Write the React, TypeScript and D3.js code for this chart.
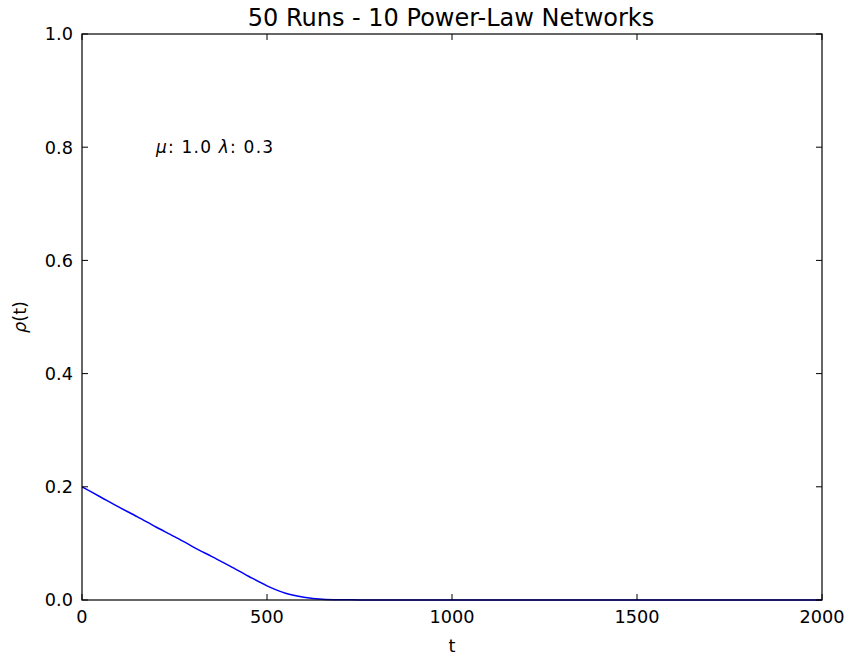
import * as d3 from 'd3';
import { useRef, useEffect } from 'react';

const steps = [0, 50, 100, 150, 200, 250, 300, 350, 400, 450, 500, 550, 600, 650, 700, 750, 800, 1000, 1500, 2000];
const rho = [0.2, 0.182, 0.164, 0.147, 0.129, 0.112, 0.094, 0.077, 0.06, 0.042, 0.025, 0.012, 0.005, 0.0015, 0.0005, 0.0002, 0.0001, 0, 0, 0];
const xTicks = [0, 500, 1000, 1500, 2000];
const yTicks = [0, 0.2, 0.4, 0.6, 0.8, 1.0];

const W = 848;
const H = 658;
const margin = { left: 82, right: 26, top: 34, bottom: 58 };

const App = () => {
  const svgRef = useRef<SVGSVGElement | null>(null);

  useEffect(() => {
    const svg = d3.select(svgRef.current);
    svg.selectAll('*').remove();

    const x = d3.scaleLinear().domain([0, 2000]).range([margin.left, W - margin.right]);
    const y = d3.scaleLinear().domain([0, 1]).range([H - margin.bottom, margin.top]);
    const font = 'DejaVu Sans, sans-serif';

    // the curve
    const line = d3.line<number>()
      .x((_, i) => x(steps[i]))
      .y((d) => y(d))
      .curve(d3.curveMonotoneX);
    svg.append('path')
      .datum(rho)
      .attr('d', line)
      .attr('fill', 'none')
      .attr('stroke', '#0000ff')
      .attr('stroke-width', 1.5);

    // frame
    svg.append('rect')
      .attr('x', x(0))
      .attr('y', y(1))
      .attr('width', x(2000) - x(0))
      .attr('height', y(0) - y(1))
      .attr('fill', 'none')
      .attr('stroke', '#000')
      .attr('stroke-width', 1.2);

    const tl = 6;
    const g = svg.append('g').attr('stroke', '#000').attr('stroke-width', 1);
    xTicks.forEach((t) => {
      g.append('line').attr('x1', x(t)).attr('x2', x(t)).attr('y1', y(0)).attr('y2', y(0) - tl);
      g.append('line').attr('x1', x(t)).attr('x2', x(t)).attr('y1', y(1)).attr('y2', y(1) + tl);
    });
    yTicks.forEach((t) => {
      g.append('line').attr('x1', x(0)).attr('x2', x(0) + tl).attr('y1', y(t)).attr('y2', y(t));
      g.append('line').attr('x1', x(2000)).attr('x2', x(2000) - tl).attr('y1', y(t)).attr('y2', y(t));
    });

    svg.append('g')
      .selectAll('text')
      .data(xTicks)
      .enter()
      .append('text')
      .attr('x', (d) => x(d))
      .attr('y', y(0) + 23)
      .attr('text-anchor', 'middle')
      .attr('font-family', font)
      .attr('font-size', 17.7)
      .attr('fill', '#000')
      .text((d) => String(d));

    svg.append('g')
      .selectAll('text')
      .data(yTicks)
      .enter()
      .append('text')
      .attr('x', x(0) - 9)
      .attr('y', (d) => y(d))
      .attr('dy', '0.36em')
      .attr('text-anchor', 'end')
      .attr('font-family', font)
      .attr('font-size', 17.7)
      .attr('fill', '#000')
      .text((d) => d.toFixed(1));

    svg.append('text')
      .attr('x', 451)
      .attr('y', 26)
      .attr('text-anchor', 'middle')
      .attr('font-family', font)
      .attr('font-size', 24)
      .attr('fill', '#000')
      .text('50 Runs - 10 Power-Law Networks');

    svg.append('text')
      .attr('x', (x(0) + x(2000)) / 2)
      .attr('y', 652)
      .attr('text-anchor', 'middle')
      .attr('font-family', font)
      .attr('font-size', 17.7)
      .attr('fill', '#000')
      .text('t');

    const yl = svg.append('text')
      .attr('transform', `translate(26, ${(y(0) + y(1)) / 2}) rotate(-90)`)
      .attr('text-anchor', 'middle')
      .attr('font-family', font)
      .attr('font-size', 17.7)
      .attr('fill', '#000');
    yl.append('tspan').attr('font-style', 'italic').text('ρ');
    yl.append('tspan').text('(t)');

    const ann = svg.append('text')
      .attr('x', x(200))
      .attr('y', y(0.8) + 6)
      .attr('font-family', font)
      .attr('font-size', 17)
      .attr('letter-spacing', 1.2)
      .attr('fill', '#000');
    ann.append('tspan').attr('font-style', 'italic').text('μ');
    ann.append('tspan').text(': 1.0 ');
    ann.append('tspan').attr('font-style', 'italic').text('λ');
    ann.append('tspan').text(': 0.3');
  }, []);

  return (
    <div style={{ position: 'absolute', left: 0, top: 0, width: W, height: H, background: '#fff' }}>
      <svg ref={svgRef} width={W} height={H} style={{ display: 'block' }} />
    </div>
  );
};

export default App;
